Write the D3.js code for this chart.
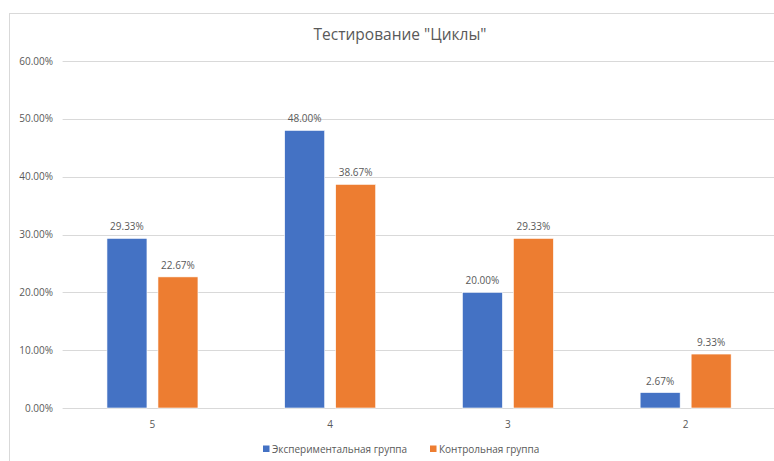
<!DOCTYPE html>
<html>
<head>
<meta charset="utf-8">
<script src="https://cdn.jsdelivr.net/npm/d3@7"></script>
<style>
  body { margin: 0; background: #fff; }
  text { font-family: "Open Sans", "Noto Sans", sans-serif; fill: #595959; }
</style>
</head>
<body>
<div class="canvas"></div>
<script>
// chart data
const categories = ["5", "4", "3", "2"]
const seriesNames = ["Экспериментальная группа", "Контрольная группа"]
const experimental = [29.33, 48.00, 20.00, 2.67]
const control = [22.67, 38.67, 29.33, 9.33]
const yTicks = [0, 10, 20, 30, 40, 50, 60]
const colors = ["#4472c4", "#ed7d31"]
const title = "Тестирование \"Циклы\""

const dims = { width: 774, height: 461 }
const plot = { left: 63.6, right: 774.5, top: 61, bottom: 408 }

const svg = d3.select(".canvas")
    .append("svg")
    .attr("width", dims.width)
    .attr("height", dims.height)

// faint chart border
svg.append("rect")
    .attr("x", 9.5).attr("y", 13.5)
    .attr("width", 800).attr("height", 500)
    .attr("fill", "none")
    .attr("stroke", "#d9d9d9")

/**
 * Scales
 */
const y = d3.scaleLinear().domain([0, 60]).range([plot.bottom, plot.top])

const x0 = d3.scaleBand()
    .domain(categories)
    .range([plot.left, plot.right])

const x1 = d3.scaleBand()
    .domain(seriesNames)
    .range([0, 91])
    .paddingInner(11 / 51)

const groupOffset = (x0.bandwidth() - 91) / 2

// gridlines
svg.append("g")
    .selectAll("line")
    .data(yTicks)
    .join("line")
        .attr("x1", plot.left - 1)
        .attr("x2", dims.width)
        .attr("y1", d => Math.round(y(d)) + 0.5)
        .attr("y2", d => Math.round(y(d)) + 0.5)
        .attr("stroke", "#d9d9d9")
        .attr("stroke-width", 1)

// y axis labels
svg.append("g")
    .selectAll("text")
    .data(yTicks)
    .join("text")
        .attr("x", 53)
        .attr("y", d => y(d))
        .attr("dy", "0.35em")
        .attr("text-anchor", "end")
        .attr("font-size", 10)
        .text(d => d3.format(".2f")(d) + "%")

/**
 * Bars
 */
const rows = categories.map((c, i) => ({ cat: c, values: [experimental[i], control[i]] }))

const groups = svg.append("g")
    .selectAll("g")
    .data(rows)
    .join("g")
        .attr("transform", d => `translate(${x0(d.cat) + groupOffset},0)`)

groups.selectAll("rect")
    .data(d => d.values.map((v, j) => ({ name: seriesNames[j], value: v, j })))
    .join("rect")
        .attr("x", d => x1(d.name))
        .attr("y", d => y(d.value))
        .attr("width", x1.bandwidth())
        .attr("height", d => y(0) - y(d.value))
        .attr("fill", d => colors[d.j])
        .attr("stroke", "#fff")
        .attr("stroke-width", 0.6)

// value labels
groups.selectAll("text")
    .data(d => d.values.map((v, j) => ({ name: seriesNames[j], value: v, j })))
    .join("text")
        .attr("x", d => x1(d.name) + x1.bandwidth() / 2)
        .attr("y", d => y(d.value) - 8)
        .attr("text-anchor", "middle")
        .attr("font-size", 10)
        .text(d => d3.format(".2f")(d.value) + "%")

// category labels
svg.append("g")
    .selectAll("text")
    .data(categories)
    .join("text")
        .attr("x", d => x0(d) + x0.bandwidth() / 2)
        .attr("y", 428)
        .attr("text-anchor", "middle")
        .attr("font-size", 10)
        .text(d => d)

// title
svg.append("text")
    .attr("x", 400)
    .attr("y", 40)
    .attr("text-anchor", "middle")
    .attr("font-size", 15.5)
    .text(title)

/**
 * Legend
 */
const legendX = [263, 430]
const legend = svg.append("g")
    .selectAll("g")
    .data(seriesNames)
    .join("g")
        .attr("transform", (d, i) => `translate(${legendX[i]},449)`)

legend.append("rect")
    .attr("x", 0).attr("y", -3.5)
    .attr("width", 6.5).attr("height", 6.5)
    .attr("fill", (d, i) => colors[i])

legend.append("text")
    .attr("x", 9)
    .attr("y", 0)
    .attr("dy", "0.35em")
    .attr("font-size", 10)
    .text(d => d)
</script>
</body>
</html>
